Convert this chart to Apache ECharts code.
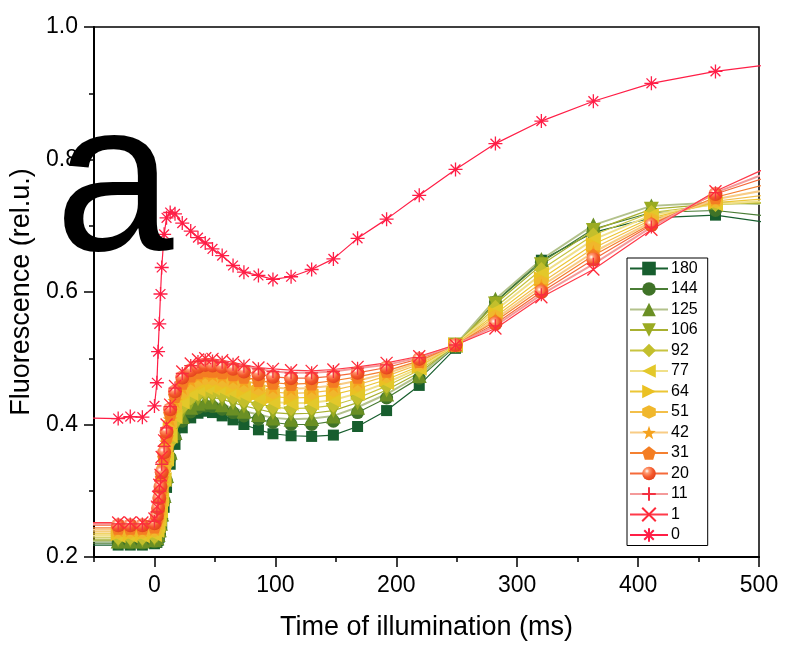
<!DOCTYPE html>
<html><head><meta charset="utf-8">
<script src="https://cdn.jsdelivr.net/npm/echarts@6/dist/echarts.min.js"></script>
<style>html,body{margin:0;padding:0;background:#fff}#c{width:790px;height:646px}</style>
</head><body><div id="c"></div>
<script>
// time points (ms)
const T = [-60,-30,-20,-10,0,2,3,4,5,6,8,10,13,17,23,30,36,42,48,56,65,74,86,98,113,130,148,168,192,219,249,282,320,363,411,464,530];
const names = ['180','144','125','106','92','77','64','51','42','31','20','11','1','0'];
const s180 = [0.218,0.218,0.218,0.218,0.220,0.222,0.225,0.230,0.238,0.250,0.275,0.305,0.340,0.370,0.395,0.410,0.417,0.420,0.418,0.413,0.407,0.400,0.392,0.386,0.383,0.382,0.384,0.397,0.421,0.459,0.515,0.585,0.648,0.690,0.712,0.716,0.699];
const s144 = [0.221,0.221,0.221,0.221,0.223,0.226,0.230,0.236,0.245,0.258,0.285,0.315,0.350,0.380,0.405,0.419,0.425,0.428,0.427,0.423,0.418,0.413,0.408,0.403,0.400,0.400,0.405,0.418,0.440,0.470,0.518,0.585,0.645,0.695,0.720,0.723,0.710];
const s125 = [0.224,0.224,0.224,0.224,0.226,0.229,0.234,0.241,0.251,0.265,0.293,0.323,0.358,0.388,0.412,0.426,0.432,0.435,0.434,0.430,0.425,0.420,0.415,0.410,0.408,0.409,0.413,0.426,0.446,0.474,0.520,0.589,0.649,0.701,0.730,0.735,0.731];
const s106 = [0.226,0.226,0.226,0.226,0.228,0.232,0.238,0.246,0.257,0.272,0.301,0.331,0.366,0.396,0.419,0.433,0.439,0.442,0.441,0.438,0.433,0.428,0.423,0.418,0.416,0.417,0.421,0.433,0.452,0.478,0.520,0.582,0.641,0.693,0.725,0.733,0.735];
const s92  = [0.229,0.229,0.229,0.229,0.231,0.236,0.242,0.251,0.263,0.279,0.309,0.339,0.374,0.404,0.426,0.440,0.446,0.449,0.448,0.445,0.441,0.436,0.431,0.426,0.424,0.425,0.429,0.440,0.458,0.482,0.520,0.577,0.634,0.686,0.720,0.732,0.738];
const s77  = [0.232,0.232,0.232,0.232,0.234,0.240,0.247,0.257,0.270,0.287,0.317,0.348,0.383,0.412,0.434,0.447,0.453,0.456,0.455,0.452,0.448,0.444,0.439,0.434,0.432,0.433,0.437,0.447,0.463,0.485,0.520,0.572,0.627,0.679,0.716,0.733,0.740];
const s64  = [0.235,0.235,0.235,0.235,0.237,0.244,0.252,0.263,0.277,0.295,0.326,0.357,0.392,0.420,0.441,0.454,0.460,0.463,0.462,0.459,0.456,0.452,0.447,0.442,0.440,0.441,0.445,0.454,0.468,0.488,0.520,0.567,0.620,0.672,0.712,0.735,0.744];
const s51  = [0.238,0.238,0.238,0.238,0.240,0.248,0.257,0.269,0.284,0.303,0.334,0.365,0.400,0.428,0.449,0.461,0.467,0.470,0.469,0.466,0.463,0.459,0.454,0.449,0.447,0.448,0.452,0.460,0.473,0.491,0.520,0.563,0.614,0.666,0.709,0.737,0.752];
const s42  = [0.241,0.241,0.241,0.241,0.243,0.252,0.262,0.275,0.291,0.311,0.342,0.373,0.408,0.436,0.456,0.467,0.473,0.476,0.475,0.473,0.470,0.466,0.461,0.456,0.454,0.455,0.459,0.466,0.477,0.494,0.520,0.559,0.609,0.660,0.706,0.740,0.762];
const s31  = [0.244,0.244,0.244,0.244,0.246,0.256,0.267,0.281,0.298,0.319,0.350,0.381,0.416,0.443,0.463,0.474,0.479,0.482,0.481,0.479,0.476,0.472,0.467,0.463,0.461,0.462,0.466,0.472,0.481,0.496,0.520,0.556,0.604,0.655,0.703,0.743,0.774];
const s20  = [0.248,0.248,0.248,0.248,0.251,0.262,0.274,0.289,0.306,0.328,0.358,0.389,0.423,0.450,0.471,0.482,0.487,0.490,0.489,0.487,0.484,0.480,0.476,0.472,0.470,0.470,0.473,0.478,0.486,0.499,0.520,0.552,0.600,0.649,0.701,0.748,0.787];
const s11  = [0.250,0.250,0.250,0.250,0.254,0.268,0.282,0.299,0.315,0.340,0.367,0.395,0.427,0.455,0.477,0.489,0.495,0.497,0.496,0.494,0.491,0.488,0.484,0.480,0.478,0.478,0.480,0.485,0.490,0.501,0.520,0.549,0.596,0.642,0.698,0.750,0.796];
const s1   = [0.252,0.252,0.252,0.252,0.258,0.276,0.291,0.309,0.324,0.351,0.376,0.400,0.430,0.458,0.480,0.492,0.498,0.500,0.499,0.497,0.494,0.490,0.486,0.484,0.482,0.481,0.483,0.487,0.493,0.503,0.520,0.545,0.592,0.634,0.694,0.752,0.807];
const s0   = [0.410,0.409,0.412,0.411,0.428,0.463,0.510,0.552,0.597,0.637,0.687,0.712,0.720,0.718,0.704,0.692,0.682,0.674,0.665,0.655,0.640,0.630,0.625,0.619,0.623,0.634,0.650,0.681,0.710,0.746,0.785,0.824,0.858,0.888,0.915,0.933,0.948];
const xMajor = [0,100,200,300,400,500];
const xMinor = [-50,50,150,250,350,450];
const yMajor = [0.2,0.4,0.6,0.8,1.0];
const yMinor = [0.3,0.5,0.7,0.9];

const values = [s180,s144,s125,s106,s92,s77,s64,s51,s42,s31,s20,s11,s1,s0];

const chart = echarts.init(document.getElementById('c'), null, {renderer:'canvas'});
const FONT = '"Liberation Sans", Arial, sans-serif';

const star = 'path://M10,0L12.35,6.76L19.51,6.91L13.8,11.24L15.88,18.09L10,14L4.12,18.09L6.2,11.24L0.49,6.91L7.65,6.76Z';
const pent = 'path://M10,0L19.51,6.91L15.88,18.09L4.12,18.09L0.49,6.91Z';
const hexa = 'path://M5,0L9.33,2.5L9.33,7.5L5,10L0.67,7.5L0.67,2.5Z';
const sphere = new echarts.graphic.RadialGradient(0.35,0.32,0.75,[{offset:0,color:'#ffffff'},{offset:0.22,color:'#ff9a70'},{offset:0.6,color:'#f4572a'},{offset:1,color:'#e0401a'}]);

const styles = [
  {sym:'rect', size:11, mc:'#175e2e', lc:'#175e2e', lw:1.2},
  {sym:'circle', size:13, mc:'#3f7328', lc:'#4a7d35', lw:1.2},
  {sym:'triangle', size:15, mc:'#6a8f24', lc:'#b3c28c', lw:2},
  {sym:'path://M0,0L10,0L5,9Z', size:15, mc:'#9aab22', lc:'#a8b030', lw:1.2},
  {sym:'diamond', size:15, mc:'#c3bf2c', lc:'#c8c440', lw:1.2},
  {sym:'path://M9,0L9,10L0,5Z', size:15, mc:'#e3c82a', lc:'#f0e08a', lw:2},
  {sym:'path://M0,0L9,5L0,10Z', size:15, mc:'#ebc122', lc:'#ecc635', lw:1.2},
  {sym:hexa, size:14, mc:'#f0b72c', lc:'#f3bf4a', lw:1.2},
  {sym:star, size:15, mc:'#f5a21e', lc:'#f8cc85', lw:2},
  {sym:pent, size:14, mc:'#f47d22', lc:'#f48030', lw:1.2},
  {sym:'circle', size:14, mc:sphere, lc:'#f56a3a', lw:1.2},
  {sym:'path://M5,0L5,10M0,5L10,5', size:13, mc:'#f43040', lc:'#f49a9a', lw:2, stroke:true},
  {sym:'path://M0,0L10,10M10,0L0,10', size:12, mc:'#ff2a3a', lc:'#ff3a4a', lw:1.2, stroke:true},
  {sym:'path://M5,0L5,10M0,5L10,5M1.5,1.5L8.5,8.5M8.5,1.5L1.5,8.5', size:14, mc:'#ff1e46', lc:'#ff1e46', lw:1.2, stroke:true}
];

const series = names.map((n,i)=>{
  const st = styles[i];
  const itemStyle = st.stroke ? {color:st.mc, borderColor:st.mc, borderWidth:1.3} : {color:st.mc, borderWidth:0};
  return {
    name:n, type:'line', xAxisIndex:0, yAxisIndex:0,
    data: T.map((t,k)=>[t, values[i][k]]),
    symbol: st.sym, symbolSize: st.size, showSymbol:true, showAllSymbol:true,
    itemStyle, lineStyle:{color:st.lc, width:st.lw},
    clip:true, smooth:false, emphasis:{disabled:true}, z: 2
  };
});

const axisTxt = {color:'#000', fontFamily:FONT, fontSize:23};

chart.setOption({
  animation:false,
  backgroundColor:'#fff',
  grid:{left:94, right:31, top:27, bottom:83, show:true, borderColor:'#000', borderWidth:1.5, containLabel:false},
  legend:{
    orient:'vertical', left:627, top:258, data:names,
    itemWidth:38, itemHeight:17, itemGap:3.5,
    padding:[2,10,2,2], borderColor:'#000', borderWidth:1, backgroundColor:'#fff',
    textStyle:{color:'#000', fontFamily:FONT, fontSize:16, lineHeight:17, padding:[0,0,0,-2]},
    selectedMode:false
  },
  xAxis:[
    {type:'value', min:-50, max:500, position:'bottom',
     name:'Time of illumination (ms)', nameLocation:'middle', nameGap:57,
     nameTextStyle:{color:'#000', fontFamily:FONT, fontSize:27},
     axisLine:{show:true, onZero:false, lineStyle:{color:'#000', width:2}},
     axisTick:{show:true, inside:false, length:10, customValues:xMajor, lineStyle:{color:'#000', width:1.5}},
     axisLabel:{...axisTxt, margin:17, customValues:xMajor},
     splitLine:{show:false}},
    {type:'value', min:-50, max:500, position:'bottom',
     axisLine:{show:false, onZero:false},
     axisTick:{show:true, inside:false, length:5, customValues:xMinor, lineStyle:{color:'#000', width:1.5}},
     axisLabel:{show:false}, splitLine:{show:false}}
  ],
  yAxis:[
    {type:'value', min:0.2, max:1.0, position:'left',
     name:'Fluorescence (rel.u.)', nameLocation:'middle', nameGap:53,
     nameTextStyle:{color:'#000', fontFamily:FONT, fontSize:27},
     axisLine:{show:true, onZero:false, lineStyle:{color:'#000', width:2}},
     axisTick:{show:true, inside:false, length:10, customValues:yMajor, lineStyle:{color:'#000', width:1.5}},
     axisLabel:{...axisTxt, margin:16, customValues:yMajor, formatter:v=>v.toFixed(1)},
     splitLine:{show:false}},
    {type:'value', min:0.2, max:1.0, position:'left',
     axisLine:{show:false, onZero:false},
     axisTick:{show:true, inside:false, length:5, customValues:yMinor, lineStyle:{color:'#000', width:1.5}},
     axisLabel:{show:false}, splitLine:{show:false}}
  ],
  graphic:[
    {type:'text', left:55, top:85, z:100, silent:true,
     style:{text:'a', font:'213px "Liberation Sans", Arial, sans-serif', fill:'#000'}}
  ],
  series
});
</script></body></html>
